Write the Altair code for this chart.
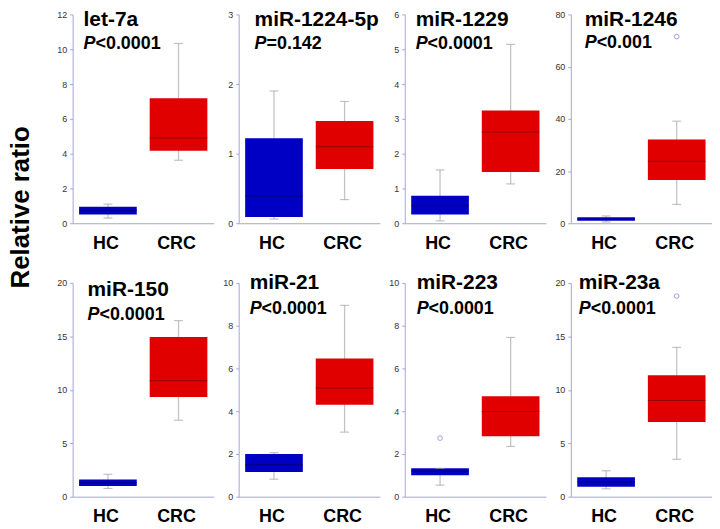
import altair as alt
import pandas as pd

# ---------------- data ----------------
names = ["let-7a", "miR-1224-5p", "miR-1229", "miR-1246",
         "miR-150", "miR-21", "miR-223", "miR-23a"]
p_text = ["<0.0001", "=0.142", "<0.0001", "<0.001",
          "<0.0001", "<0.0001", "<0.0001", "<0.0001"]
y_max = [12, 3, 6, 80, 20, 10, 10, 20]
y_step = [2, 1, 1, 20, 5, 2, 2, 5]
groups = ["HC", "CRC"]

# box statistics: whisker low, Q1, median, Q3, whisker high
hc_stats = [
    [0.30, 0.50, 0.75, 0.95, 1.10],
    [0.06, 0.09, 0.39, 1.22, 1.90],
    [0.07, 0.25, 0.50, 0.79, 1.53],
    [0.50, 1.00, 1.50, 2.30, 2.80],
    [0.77, 1.00, 1.30, 1.60, 2.10],
    [0.82, 1.16, 1.50, 2.00, 2.06],
    [0.54, 1.00, 1.20, 1.33, 1.33],
    [0.74, 0.92, 1.40, 1.82, 2.43],
]
crc_stats = [
    [3.62, 4.16, 4.90, 7.18, 10.33],
    [0.34, 0.78, 1.10, 1.47, 1.75],
    [1.13, 1.475, 2.62, 3.24, 5.14],
    [7.2, 16.6, 23.8, 32.1, 39.1],
    [7.15, 9.33, 10.84, 14.95, 16.47],
    [3.02, 4.30, 5.08, 6.47, 8.95],
    [2.35, 2.83, 3.98, 4.70, 7.45],
    [3.50, 6.98, 9.00, 11.35, 13.97],
]
# outliers: (panel index, group, value)
outlier_panel = [3, 6, 7]
outlier_group = ["CRC", "HC", "CRC"]
outlier_value = [71.5, 2.74, 18.77]

# ---------------- style ----------------
FONT = "Liberation Sans"
BLUE = "#0000c4"
RED = "#e00000"
AXIS_COL = "#a4a4dc"
W = 142
H_ROW = [210, 215]
# title offsets (dx, name baseline y, p baseline y) relative to the plot area
title_pos = [(11, 12, 35), (16, 12, 35), (11, 12, 35), (14, 12, 34),
             (15, 13, 37), (11, 6, 31), (12, 6, 31), (8, 6, 31)]

x_enc = alt.X("group:N", sort=groups,
              scale=alt.Scale(domain=groups, paddingInner=0.183, paddingOuter=0.0915),
              axis=alt.Axis(title=None, ticks=False, labelAngle=0, labelFontSize=18,
                            labelFontWeight="bold", labelColor="black", labelPadding=11,
                            labelOffset=-2, domainColor=AXIS_COL, labelFont=FONT))


def panel(i):
    h = H_ROW[i // 4]
    rows = []
    for g, st, mc in (("HC", hc_stats[i], "#00005a"), ("CRC", crc_stats[i], "#6e0000")):
        rows.append(dict(group=g, wlo=st[0], q1=st[1], med=st[2], q3=st[3], whi=st[4], mcol=mc))
    df = pd.DataFrame(rows)
    yscale = alt.Scale(domain=[0, y_max[i]], nice=False)
    yaxis = alt.Axis(title=None, values=list(range(0, y_max[i] + 1, y_step[i])), grid=False,
                     tickSize=3, tickColor=AXIS_COL, domainColor=AXIS_COL, labelFontSize=9,
                     labelColor="#333333", labelPadding=3, labelFont=FONT)

    whisk = alt.Chart(df).mark_rule(color="#c4c4c4", strokeWidth=1.3).encode(
        x=x_enc, y=alt.Y("wlo:Q", scale=yscale, axis=yaxis), y2="whi:Q")
    caps_lo = alt.Chart(df).mark_tick(orient="horizontal", size=9, thickness=1.2,
                                      color="#a8a8a8").encode(
        x=x_enc, y=alt.Y("wlo:Q", scale=yscale, axis=yaxis))
    caps_hi = alt.Chart(df).mark_tick(orient="horizontal", size=9, thickness=1.2,
                                      color="#a8a8a8").encode(
        x=x_enc, y=alt.Y("whi:Q", scale=yscale, axis=yaxis))
    box = alt.Chart(df).mark_bar().encode(
        x=x_enc, y=alt.Y("q1:Q", scale=yscale, axis=yaxis), y2="q3:Q",
        color=alt.Color("group:N", scale=alt.Scale(domain=groups, range=[BLUE, RED]),
                        legend=None))
    med = alt.Chart(df).mark_tick(orient="horizontal", size=58, thickness=1).encode(
        x=x_enc, y=alt.Y("med:Q", scale=yscale, axis=yaxis),
        color=alt.Color("mcol:N", scale=None))
    layers = [whisk, box, caps_lo, caps_hi, med]

    out = [dict(group=g, v=v) for p, g, v in zip(outlier_panel, outlier_group, outlier_value)
           if p == i]
    if out:
        layers.append(alt.Chart(pd.DataFrame(out)).mark_point(
            shape="circle", filled=False, size=22, color="#7878d8", strokeWidth=1).encode(
            x=x_enc, y=alt.Y("v:Q", scale=yscale, axis=yaxis)))

    dx, ny, py = title_pos[i]
    layers.append(alt.Chart(pd.DataFrame({"t": [names[i]]})).mark_text(
        align="left", baseline="alphabetic", font=FONT, fontSize=21, fontWeight="bold",
        color="black").encode(x=alt.value(dx), y=alt.value(ny), text="t:N"))
    layers.append(alt.Chart(pd.DataFrame({"t": ["P"]})).mark_text(
        align="left", baseline="alphabetic", font=FONT, fontSize=18, fontWeight="bold",
        fontStyle="italic", color="black").encode(x=alt.value(dx), y=alt.value(py), text="t:N"))
    layers.append(alt.Chart(pd.DataFrame({"t": [p_text[i]]})).mark_text(
        align="left", baseline="alphabetic", font=FONT, fontSize=18, fontWeight="bold",
        color="black").encode(x=alt.value(dx + 12), y=alt.value(py), text="t:N"))
    if i == 0:
        layers.append(alt.Chart(pd.DataFrame({"t": ["Relative ratio"]})).mark_text(
            align="center", baseline="middle", font=FONT, fontSize=26, fontWeight="bold",
            angle=270, color="black").encode(x=alt.value(-52), y=alt.value(194), text="t:N"))
    return alt.layer(*layers).properties(width=W, height=h)


chart = alt.concat(*[panel(i) for i in range(8)], columns=4,
                   spacing={"row": 60, "column": 25}, bounds="flush").properties(
    padding=0).configure(view=alt.ViewConfig(stroke=None))

chart.save("out.html", embed_options={"renderer": "svg", "actions": False})
